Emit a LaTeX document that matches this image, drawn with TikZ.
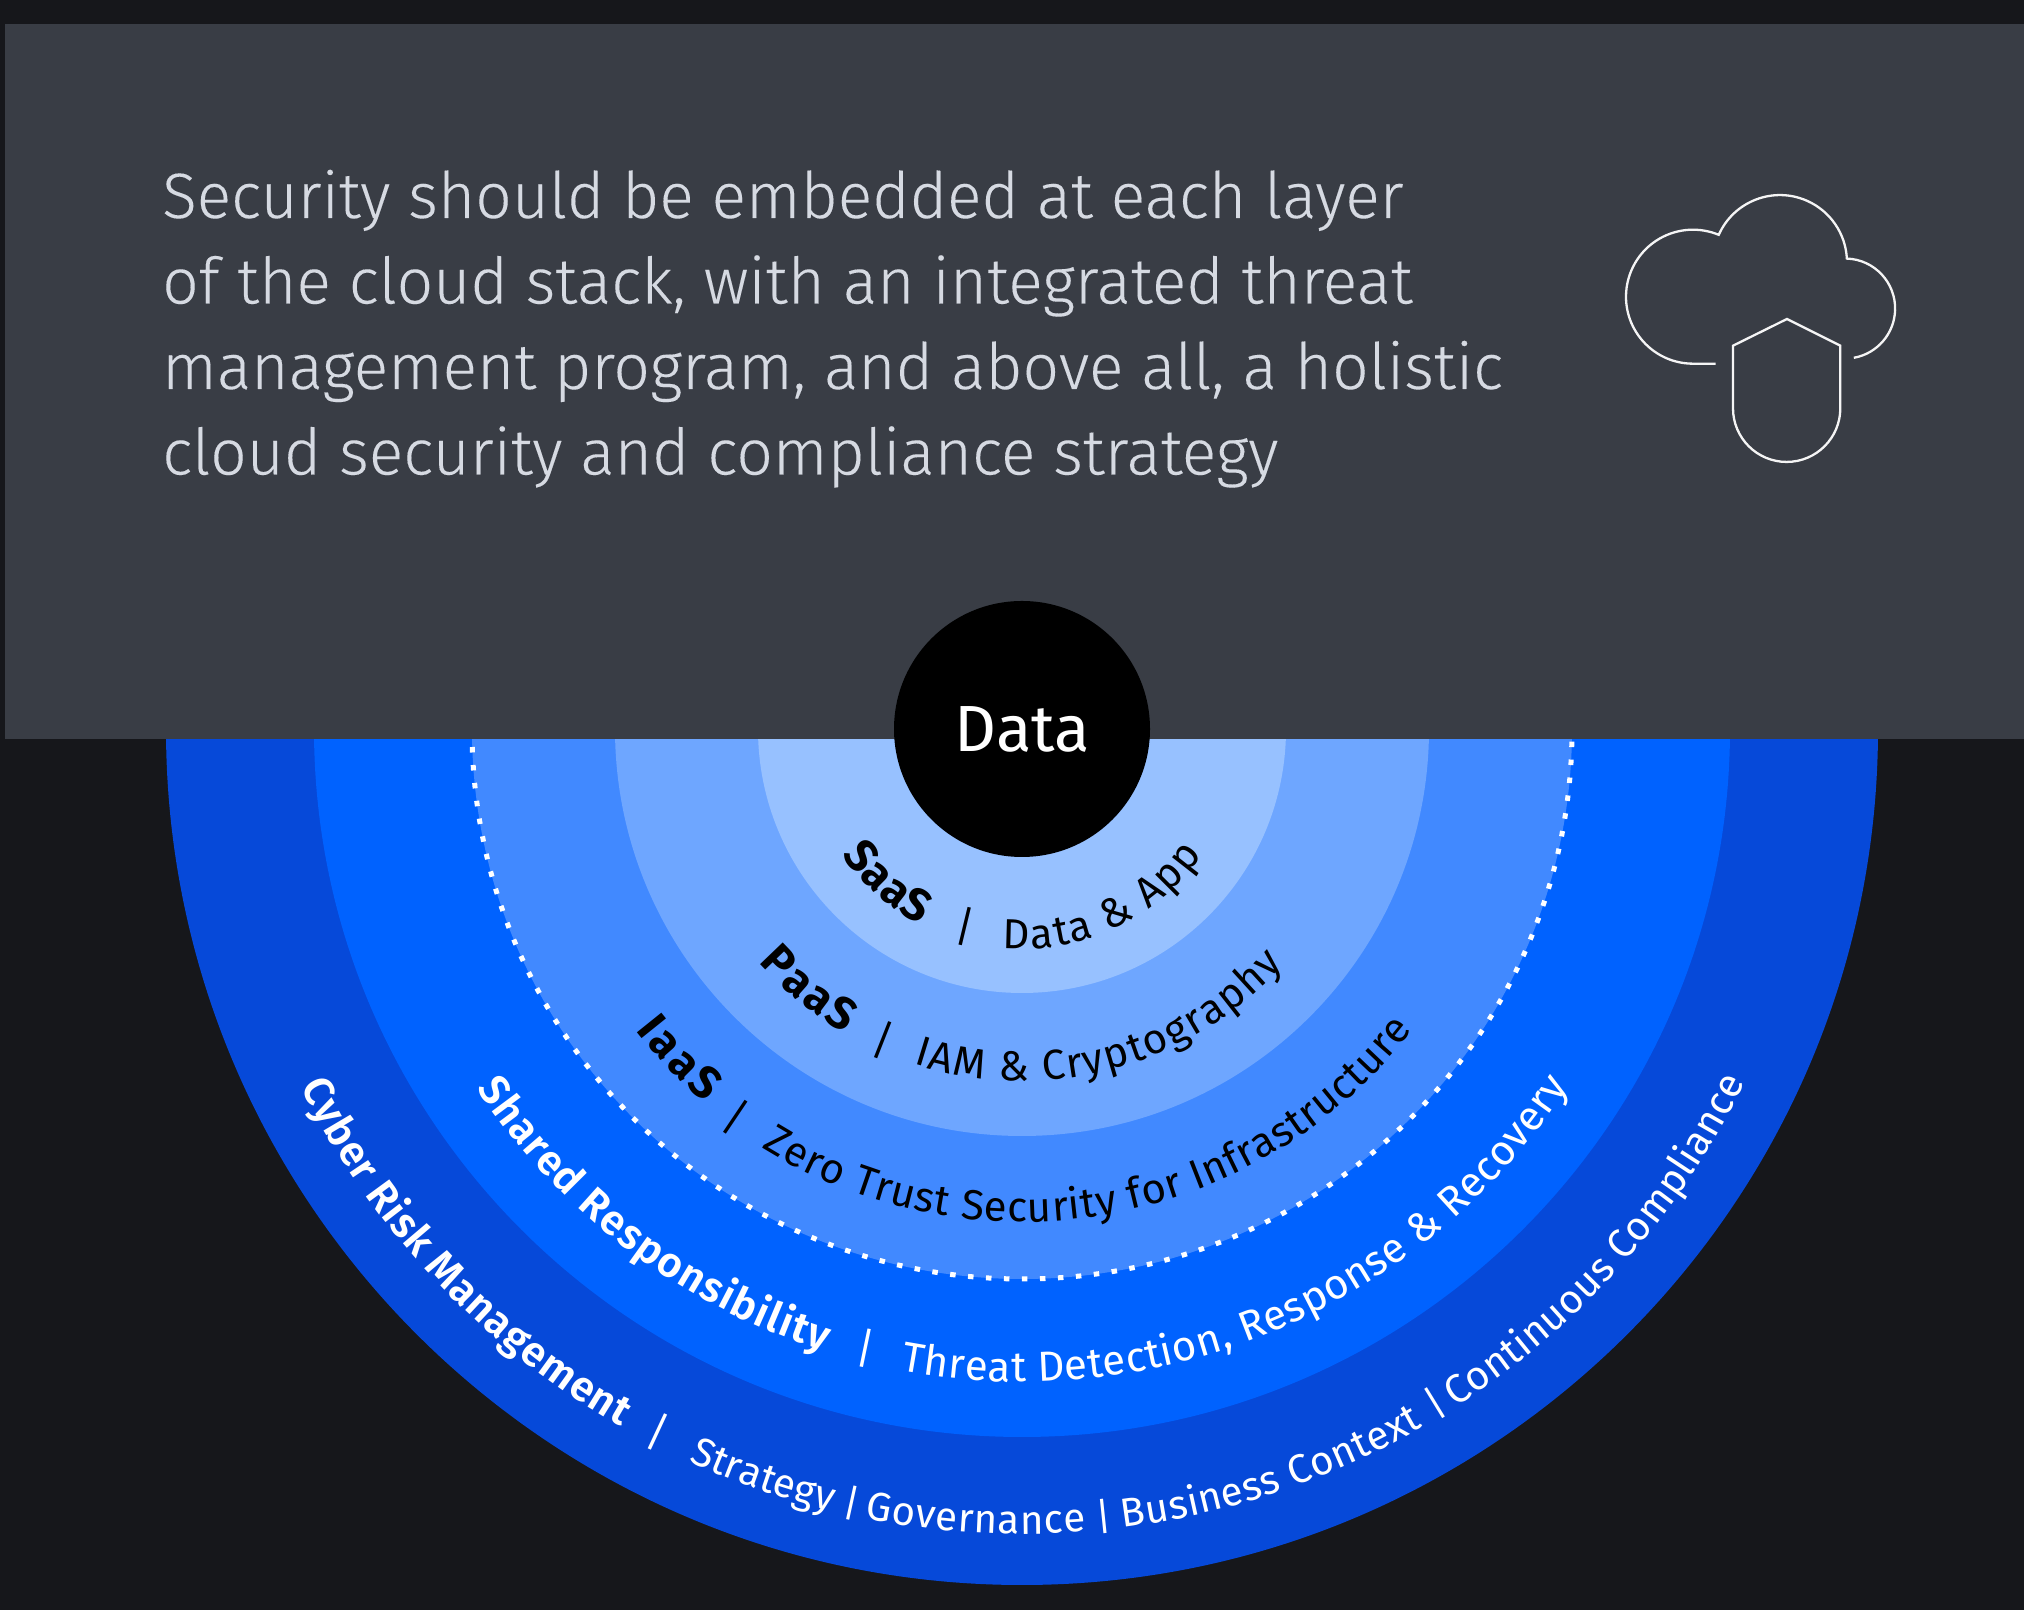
\documentclass[tikz,border=0pt]{standalone}
\usepackage{fontspec}
\usetikzlibrary{decorations.text,calc}
\setmainfont{Fira Sans}
\newfontfamily\lightf[FakeBold=0.12]{Fira Sans Light}
\newfontfamily\semif{Fira Sans SemiBold}
\definecolor{bgc}{HTML}{16171B}
\definecolor{panelc}{HTML}{393D45}
\definecolor{headc}{HTML}{D6DAE2}
\definecolor{ringa}{HTML}{0649D9}
\definecolor{ringb}{HTML}{0062FF}
\definecolor{ringc}{HTML}{4189FF}
\definecolor{ringd}{HTML}{6EA6FF}
\definecolor{ringe}{HTML}{97C1FF}
\newcommand{\halfdisc}[2]{\fill[#1] ($(c)+(180:#2)$) arc[start angle=180,end angle=360,radius=#2] -- cycle;}
% radius, from, to (degrees off straight down), colour, font, text
\newcommand{\arcsized}[7]{\path[decorate,decoration={text along path,text align={fit to path},text color=#5,text={|#6\fontsize{#1}{50}\selectfont|#7}}] ($(c)+(270+#3:#2)$) arc[start angle=270+#3,end angle=270+#4,radius=#2];}
\newcommand{\arctext}[6]{\arcsized{42.15}{#1}{#2}{#3}{#4}{#5}{#6}}
\newcommand{\arctextb}[6]{\arcsized{40.5}{#1}{#2}{#3}{#4}{#5}{#6}}
\newcommand{\arctextc}[6]{\arcsized{45.5}{#1}{#2}{#3}{#4}{#5}{#6}}
\newcommand{\slashmark}[4]{\node[slashnode,text=#4,rotate=#2+17] (#3) at ($(c)+(270+#2:#1)$) {/};}
\newcommand{\pipemark}[3]{\node[pipenode,rotate=#2] (#3) at ($(c)+(270+#2:#1)$) {|};}
\tikzset{
  x=1bp,y=1bp,
  slashnode/.style={inner sep=0pt,font=\fontsize{42.15}{50}\selectfont},
  pipenode/.style={inner sep=0pt,text=white,font=\fontsize{38}{40}\selectfont},
  headline/.style={anchor=base west,inner sep=0pt,text=headc,font=\lightf\fontsize{64.3}{80}\selectfont},
  iconline/.style={draw=white!96!black,line width=2.3bp,line join=miter},
}
\begin{document}
\begin{tikzpicture}
\useasboundingbox (0,0) rectangle (2024,1610);
\fill[bgc] (0,0) rectangle (2024,1610);
\coordinate (c) at (1022,881);
\halfdisc{ringa}{856}
\halfdisc{ringb}{708}
\halfdisc{ringc}{550}
\halfdisc{ringd}{407}
\halfdisc{ringe}{264}
\draw[white,line width=5bp,dash pattern=on 5.5bp off 12.5bp] ($(c)+(180:550)$) arc[start angle=180,end angle=360,radius=550];
\fill[panelc] (5,871) rectangle (2024,1586);
\node[headline] (h1) at (162,1392) {Security should be embedded at each layer};
\node[headline] (h2) at (162,1306.5) {of the cloud stack, with an integrated threat};
\node[headline] (h3) at (162,1221) {management program, and above all, a holistic};
\node[headline] (h4) at (162,1135.5) {cloud security and compliance strategy};
% icon
\draw[iconline] (1715.7,1246.3) -- (1693,1246.3) arc[start angle=270,end angle=67.4,radius=67] arc[start angle=156,end angle=3,radius=67] arc[start angle=88,end angle=-80,radius=50];
\draw[iconline] (1787,1291) -- (1840.3,1264.3) -- (1840.3,1201.7) arc[start angle=0,end angle=-180,radius=53.65] -- (1733,1264.3) -- cycle;
% centre
\node[circle,fill=black,minimum size=256bp,inner sep=0pt] (data) at (c) {};
\node[anchor=base,inner sep=0pt,text=white,font=\fontsize{65.5}{70}\selectfont] (datat) at (1022.5,858.3) {Data};
% ring labels
\arctextc{220}{-55}{-27.5}{black}{\bfseries}{SaaS}
\slashmark{206}{-16}{s1}{black}
\arctext{220}{-5}{55.2}{black}{}{Data {\&} App}
\arctextc{352}{-48.4}{-30.2}{black}{\bfseries}{PaaS}
\slashmark{341}{-24}{s2}{black}
\arctext{352}{-18}{48}{black}{}{IAM {\&} Cryptography}
\arctextc{490}{-52}{-40.3}{black}{\bfseries}{IaaS}
\slashmark{482}{-36.4}{s3}{black}
\arctext{493}{-31.9}{52.4}{black}{}{Zero Trust Security for Infrastructure}
\arctext{653}{-56.6}{-17.6}{white}{\semif}{Shared Responsibility}
\slashmark{639}{-14.2}{s4}{white}
\arctext{653}{-10.7}{56.8}{white}{}{Threat Detection, Response {\&} Recovery}
\arctext{805}{-63.6}{-29.9}{white}{\semif}{Cyber Risk Management}
\slashmark{792}{-27.4}{s5}{white}
\arctextb{805}{-24.5}{-13.7}{white}{}{Strategy}
\pipemark{793}{-12.4}{p1}
\arctextb{805}{-11.3}{4.6}{white}{}{Governance}
\pipemark{792}{5.9}{p2}
\arctextb{805}{7.2}{29.9}{white}{}{Business Context}
\pipemark{791}{31.5}{p3}
\arctextb{805}{32.6}{64}{white}{}{Continuous Compliance}
\end{tikzpicture}
\end{document}
